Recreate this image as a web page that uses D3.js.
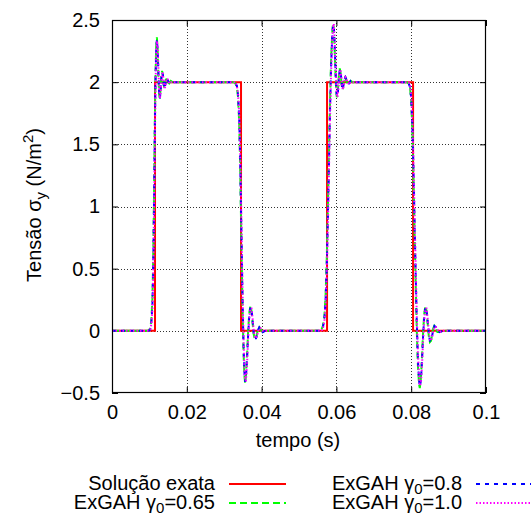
<!DOCTYPE html>
<html>
<head>
<meta charset="utf-8">
<script src="https://cdn.jsdelivr.net/npm/d3@7"></script>
<style>
  html, body { margin: 0; padding: 0; background: #fff; }
  svg text { font-family: "Liberation Sans", Arial, Helvetica, sans-serif; fill: #000; }
</style>
</head>
<body>
<svg id="chart" width="531" height="517"></svg>
<script>
// Exact solution: square pulses of stress
const exataT = [0, 0.0115, 0.0115, 0.0345, 0.0345, 0.0575, 0.0575, 0.0805, 0.0805, 0.1];
const exataY = [0, 0, 2, 2, 0, 0, 2, 2, 0, 0];

// Time samples shared by the three ExGAH runs
const tempo = [
  0, 0.005, 0.0098,
  0.0102, 0.0105, 0.0108, 0.0110, 0.0112, 0.0114, 0.0116, 0.0118, 0.0120, 0.0122,
  0.0124, 0.0126, 0.0128, 0.0130, 0.0132, 0.0134, 0.0136, 0.0138, 0.0140, 0.0142,
  0.0144, 0.0147, 0.0150, 0.0153, 0.0157, 0.0162,
  0.020, 0.026, 0.0326,
  0.0330, 0.0334, 0.0337, 0.0340, 0.0342, 0.0344, 0.0346, 0.0348, 0.0350, 0.0352,
  0.0354, 0.0356, 0.0358, 0.0361, 0.0364, 0.0367, 0.0370, 0.0373, 0.0376, 0.0379,
  0.0382, 0.0385, 0.0388, 0.0391, 0.0394, 0.0398, 0.0403, 0.0410,
  0.045, 0.050, 0.0555,
  0.0560, 0.0564, 0.0568, 0.0571, 0.0574, 0.0577, 0.0580, 0.0583, 0.0586, 0.0589,
  0.0591, 0.0593, 0.0595, 0.0597, 0.0599, 0.0601, 0.0603, 0.0605, 0.0607, 0.0609,
  0.0611, 0.0613, 0.0615, 0.0617, 0.0619, 0.0621, 0.0624, 0.0627, 0.0630, 0.0634,
  0.0638, 0.0643,
  0.068, 0.074, 0.0788,
  0.0793, 0.0797, 0.0800, 0.0803, 0.0806, 0.0809, 0.0812, 0.0815, 0.0818, 0.0821,
  0.0823, 0.0826, 0.0829, 0.0832, 0.0835, 0.0838, 0.0841, 0.0844, 0.0847, 0.0850,
  0.0853, 0.0856, 0.0859, 0.0862, 0.0866, 0.0870, 0.0876, 0.0884,
  0.092, 0.1
];

// ExGAH, gamma0 = 0.65
const gama065 = [
  0, 0, 0,
  0.02, 0.08, 0.25, 0.55, 1.00, 1.55, 2.00, 2.28, 2.36, 2.26,
  2.05, 1.90, 1.87, 1.95, 2.05, 2.09, 2.05, 1.98, 1.95, 1.98,
  2.02, 2.03, 2.00, 1.99, 2.01, 2.00,
  2, 2, 2,
  1.99, 1.96, 1.88, 1.68, 1.42, 1.08, 0.72, 0.36, 0.05, -0.20,
  -0.36, -0.42, -0.37, -0.20, 0.00, 0.14, 0.20, 0.16, 0.06, -0.03,
  -0.07, -0.06, -0.02, 0.02, 0.03, 0.01, -0.01, 0.00,
  0, 0, 0,
  0.01, 0.04, 0.12, 0.28, 0.55, 0.95, 1.40, 1.85, 2.20, 2.40,
  2.47, 2.44, 2.30, 2.12, 1.96, 1.88, 1.90, 1.98, 2.07, 2.11,
  2.08, 2.01, 1.95, 1.95, 1.99, 2.03, 2.04, 2.01, 1.98, 1.99,
  2.01, 2.00,
  2, 2, 2,
  1.99, 1.95, 1.85, 1.62, 1.25, 0.80, 0.38, 0.00, -0.28, -0.43,
  -0.46, -0.38, -0.20, 0.00, 0.14, 0.20, 0.16, 0.06, -0.04, -0.09,
  -0.08, -0.03, 0.02, 0.04, 0.02, -0.01, -0.01, 0.00,
  0, 0
];

// ExGAH, gamma0 = 0.8
const gama08 = [
  0, 0, 0,
  0.01, 0.06, 0.20, 0.48, 0.92, 1.48, 1.95, 2.25, 2.34, 2.27,
  2.08, 1.92, 1.87, 1.93, 2.03, 2.08, 2.06, 1.99, 1.95, 1.97,
  2.01, 2.03, 2.01, 1.99, 2.00, 2.00,
  2, 2, 2,
  1.99, 1.97, 1.90, 1.72, 1.48, 1.15, 0.80, 0.43, 0.11, -0.15,
  -0.33, -0.41, -0.38, -0.23, -0.03, 0.12, 0.19, 0.17, 0.08, -0.02,
  -0.06, -0.06, -0.03, 0.01, 0.03, 0.02, -0.01, 0.00,
  0, 0, 0,
  0.01, 0.03, 0.10, 0.24, 0.50, 0.88, 1.33, 1.78, 2.15, 2.38,
  2.46, 2.45, 2.33, 2.16, 1.99, 1.89, 1.89, 1.96, 2.05, 2.10,
  2.09, 2.03, 1.96, 1.94, 1.98, 2.02, 2.04, 2.02, 1.99, 1.99,
  2.01, 2.00,
  2, 2, 2,
  1.99, 1.96, 1.87, 1.66, 1.31, 0.87, 0.45, 0.06, -0.23, -0.40,
  -0.45, -0.40, -0.23, -0.03, 0.12, 0.19, 0.17, 0.08, -0.02, -0.08,
  -0.08, -0.04, 0.01, 0.04, 0.03, 0.00, -0.01, 0.00,
  0, 0
];

// ExGAH, gamma0 = 1.0
const gama10 = [
  0, 0, 0,
  0.01, 0.05, 0.17, 0.42, 0.85, 1.40, 1.90, 2.22, 2.33, 2.29,
  2.11, 1.94, 1.87, 1.91, 2.01, 2.07, 2.07, 2.01, 1.96, 1.96,
  2.00, 2.03, 2.02, 1.99, 2.00, 2.00,
  2, 2, 2,
  2.00, 1.97, 1.91, 1.75, 1.53, 1.22, 0.87, 0.50, 0.17, -0.10,
  -0.29, -0.40, -0.40, -0.27, -0.06, 0.10, 0.18, 0.18, 0.10, 0.00,
  -0.05, -0.06, -0.04, 0.00, 0.02, 0.02, 0.00, 0.00,
  0, 0, 0,
  0.00, 0.02, 0.08, 0.20, 0.45, 0.82, 1.26, 1.72, 2.10, 2.35,
  2.45, 2.47, 2.37, 2.20, 2.02, 1.91, 1.88, 1.94, 2.03, 2.09,
  2.10, 2.05, 1.98, 1.94, 1.96, 2.01, 2.04, 2.03, 2.00, 1.98,
  2.00, 2.00,
  2, 2, 2,
  2.00, 1.97, 1.89, 1.70, 1.37, 0.94, 0.52, 0.12, -0.18, -0.37,
  -0.44, -0.42, -0.27, -0.07, 0.10, 0.18, 0.18, 0.10, 0.00, -0.07,
  -0.08, -0.05, 0.00, 0.03, 0.03, 0.01, -0.01, 0.00,
  0, 0
];

const xTicks = [0, 0.02, 0.04, 0.06, 0.08, 0.1];
const xTickLabels = ["0", "0.02", "0.04", "0.06", "0.08", "0.1"];
const yTicks = [-0.5, 0, 0.5, 1, 1.5, 2, 2.5];
const yTickLabels = ["\u22120.5", "0", "0.5", "1", "1.5", "2", "2.5"];

const svg = d3.select("#chart");
const L = 112, R = 486, T = 20, B = 393;
const x = d3.scaleLinear().domain([0, 0.1]).range([L, R]);
const y = d3.scaleLinear().domain([-0.5, 2.5]).range([B, T]);
const FS = 20;

// grid
const grid = svg.append("g").attr("stroke", "#333").attr("stroke-width", 1)
  .attr("stroke-dasharray", "1,2").attr("shape-rendering", "crispEdges");
xTicks.filter(v => v > 0 && v < 0.1).forEach(v => {
  grid.append("line").attr("x1", Math.round(x(v)) + 0.5).attr("x2", Math.round(x(v)) + 0.5)
    .attr("y1", T).attr("y2", B);
});
yTicks.filter(v => v > -0.5 && v < 2.5).forEach(v => {
  grid.append("line").attr("y1", Math.round(y(v)) + 0.5).attr("y2", Math.round(y(v)) + 0.5)
    .attr("x1", L).attr("x2", R);
});

// axes with inward ticks, mirrored on top and right
const axB = svg.append("g").attr("transform", `translate(0,${B})`)
  .call(d3.axisBottom(x).tickValues(xTicks).tickSize(-6).tickPadding(12)
    .tickFormat((d, i) => xTickLabels[i]));
const axT = svg.append("g").attr("transform", `translate(0,${T})`)
  .call(d3.axisTop(x).tickValues(xTicks).tickSize(-6).tickFormat(""));
const axL = svg.append("g").attr("transform", `translate(${L},0)`)
  .call(d3.axisLeft(y).tickValues(yTicks).tickSize(-6).tickPadding(12)
    .tickFormat((d, i) => yTickLabels[i]));
const axR = svg.append("g").attr("transform", `translate(${R},0)`)
  .call(d3.axisRight(y).tickValues(yTicks).tickSize(-6).tickFormat(""));
[axB, axT, axL, axR].forEach(a => {
  a.select(".domain").remove();
  a.selectAll("line").attr("stroke", "#000");
  a.selectAll("text").attr("font-size", FS).attr("font-family", "Liberation Sans, Arial, sans-serif");
});

// curves
svg.append("clipPath").attr("id", "area").append("rect")
  .attr("x", L).attr("y", T).attr("width", R - L).attr("height", B - T);
const line = d3.line().x(d => x(d[0])).y(d => y(d[1]));
const plot = svg.append("g").attr("clip-path", "url(#area)");

const series = [
  { t: exataT, v: exataY, color: "#ff0000", dash: null, w: 2 },
  { t: tempo, v: gama065, color: "#00ff00", dash: "7,4", w: 2 },
  { t: tempo, v: gama08, color: "#0000ff", dash: "4,5", w: 2 },
  { t: tempo, v: gama10, color: "#ff00ff", dash: "1.5,2", w: 2 }
];
series.forEach(s => {
  const pts = s.t.map((t, i) => [t, s.v[i]]);
  plot.append("path").datum(pts).attr("d", line)
    .attr("fill", "none").attr("stroke", s.color).attr("stroke-width", s.w)
    .attr("stroke-dasharray", s.dash);
});

// frame
svg.append("rect").attr("x", L + 0.5).attr("y", T + 0.5).attr("width", R - L - 1).attr("height", B - T - 1)
  .attr("fill", "none").attr("stroke", "#000").attr("stroke-width", 1.2);

// axis titles
svg.append("text").attr("x", (L + R) / 2 - 1).attr("y", 447).attr("text-anchor", "middle")
  .attr("font-size", FS).text("tempo (s)");

const yl = svg.append("text").attr("transform", "translate(41,205) rotate(-90)")
  .attr("text-anchor", "middle").attr("font-size", FS);
yl.append("tspan").text("Tensão σ");
yl.append("tspan").attr("font-size", FS * 0.75).attr("dy", 5).text("y");
yl.append("tspan").attr("dy", -5).text(" (N/m");
yl.append("tspan").attr("font-size", FS * 0.75).attr("dy", -8).text("2");
yl.append("tspan").attr("dy", 8).text(")");

// legend
const legend = [
  { label: "Solução exata", sub: null, after: null, xe: 215, y: 490, s: series[0] },
  { label: "ExGAH γ", sub: "0", after: "=0.65", xe: 215, y: 509, s: series[1] },
  { label: "ExGAH γ", sub: "0", after: "=0.8", xe: 462, y: 490, s: series[2] },
  { label: "ExGAH γ", sub: "0", after: "=1.0", xe: 462, y: 509, s: series[3] }
];
legend.forEach(e => {
  const t = svg.append("text").attr("x", e.xe).attr("y", e.y).attr("text-anchor", "end")
    .attr("font-size", FS);
  t.append("tspan").text(e.label);
  if (e.sub) {
    t.append("tspan").attr("font-size", FS * 0.75).attr("dy", 4).text(e.sub);
    t.append("tspan").attr("dy", -4).text(e.after);
  }
  svg.append("line").attr("x1", e.xe + 14).attr("x2", e.xe + 71)
    .attr("y1", e.y - 6).attr("y2", e.y - 6)
    .attr("stroke", e.s.color).attr("stroke-width", e.s.w).attr("stroke-dasharray", e.s.dash);
});
</script>
</body>
</html>
